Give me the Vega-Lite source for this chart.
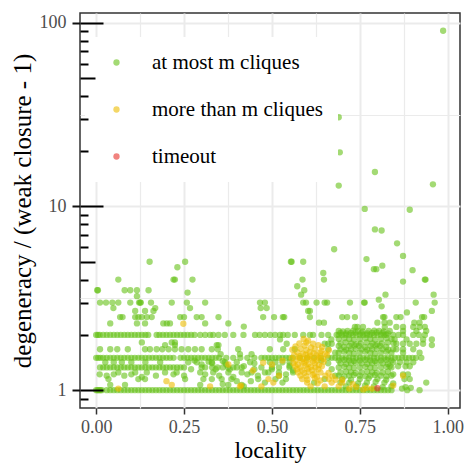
{
"$schema": "https://vega.github.io/schema/vega-lite/v6.json",
"width": 380, "height": 395,
"autosize": {"type": "none"},
"padding": {"left": 80, "top": 13, "right": 7, "bottom": 55},
"config": {"view": {"stroke": "#333333", "strokeWidth": 1.5}, "font": "'Liberation Serif', 'Times New Roman', serif",
"axis": {"labelFont": "'Liberation Serif', 'Times New Roman', serif", "titleFont": "'Liberation Serif', 'Times New Roman', serif"},
"legend": {"labelFont": "'Liberation Serif', 'Times New Roman', serif", "titleFont": "'Liberation Serif', 'Times New Roman', serif"}},
"datasets": {
"cls": [{"c":"g","status":"at most m cliques"},{"c":"y","status":"more than m cliques"},{"c":"r","status":"timeout"}],
"pts": [
{"x":0.987,"y":90.5,"c":"g"},{"x":0.69,"y":30.6,"c":"g"},{"x":0.693,"y":19.7,"c":"g"},{"x":0.656,"y":17.1,"c":"g"},{"x":0.793,"y":15.4,"c":"g"},{"x":0.69,"y":13.0,"c":"g"},{"x":0.958,"y":13.2,"c":"g"},{"x":0.764,"y":9.7,"c":"g"},{"x":0.892,"y":9.6,"c":"g"},{"x":0.793,"y":7.5,"c":"g"},{"x":0.812,"y":7.4,"c":"g"},{"x":0.856,"y":6.3,"c":"g"},{"x":0.677,"y":5.85,"c":"g"},{"x":0.873,"y":5.38,"c":"g"},{"x":0.769,"y":5.17,"c":"g"},{"x":0.554,"y":5.0,"c":"g"},{"x":0.556,"y":5.0,"c":"g"},{"x":0.589,"y":5.0,"c":"g"},{"x":0.814,"y":4.76,"c":"g"},{"x":0.79,"y":4.56,"c":"g"},{"x":0.797,"y":4.56,"c":"g"},{"x":0.9,"y":4.5,"c":"g"},{"x":0.646,"y":4.35,"c":"g"},{"x":0.587,"y":4.0,"c":"g"},{"x":0.648,"y":4.0,"c":"g"},{"x":0.935,"y":4.0,"c":"g"},{"x":0.937,"y":4.0,"c":"g"},{"x":0.873,"y":3.9,"c":"g"},{"x":0.572,"y":3.68,"c":"g"},{"x":0.592,"y":3.5,"c":"g"},{"x":0.583,"y":3.31,"c":"g"},{"x":0.823,"y":3.31,"c":"g"},{"x":0.96,"y":3.31,"c":"g"},{"x":0.804,"y":3.11,"c":"g"},
{"x":0.152,"y":5.0,"c":"g"},{"x":0.253,"y":5.0,"c":"g"},{"x":0.231,"y":4.67,"c":"g"},{"x":0.063,"y":4.0,"c":"g"},{"x":0.22,"y":4.0,"c":"g"},{"x":0.224,"y":4.0,"c":"g"},{"x":0.274,"y":4.0,"c":"g"},{"x":0.003,"y":3.5,"c":"g"},{"x":0.005,"y":3.5,"c":"g"},{"x":0.081,"y":3.5,"c":"g"},{"x":0.097,"y":3.5,"c":"g"},{"x":0.116,"y":3.5,"c":"g"},{"x":0.149,"y":3.5,"c":"g"},{"x":0.26,"y":3.4,"c":"g"},{"x":0.116,"y":3.25,"c":"g"},
{"x":0.011,"y":3,"c":"g"},{"x":0.028,"y":3,"c":"g"},{"x":0.046,"y":3,"c":"g"},{"x":0.063,"y":3,"c":"g"},{"x":0.097,"y":3,"c":"g"},{"x":0.122,"y":3,"c":"g"},{"x":0.125,"y":3,"c":"g"},{"x":0.127,"y":3,"c":"g"},{"x":0.156,"y":3,"c":"g"},{"x":0.215,"y":3,"c":"g"},{"x":0.258,"y":3,"c":"g"},{"x":0.31,"y":3,"c":"g"},{"x":0.466,"y":3,"c":"g"},{"x":0.48,"y":3,"c":"g"},{"x":0.589,"y":3,"c":"g"},{"x":0.597,"y":3,"c":"g"},{"x":0.627,"y":3,"c":"g"},{"x":0.65,"y":3,"c":"g"},{"x":0.657,"y":3,"c":"g"},{"x":0.722,"y":3,"c":"g"},{"x":0.762,"y":3,"c":"g"},{"x":0.764,"y":3,"c":"g"},{"x":0.909,"y":3,"c":"g"},{"x":0.963,"y":3,"c":"g"},
{"x":0.049,"y":2.8,"c":"g"},{"x":0.168,"y":2.8,"c":"g"},{"x":0.267,"y":2.8,"c":"g"},{"x":0.468,"y":2.8,"c":"g"},{"x":0.485,"y":2.8,"c":"g"},{"x":0.812,"y":2.86,"c":"g"},
{"x":0.111,"y":2.7,"c":"g"},{"x":0.139,"y":2.7,"c":"g"},{"x":0.163,"y":2.7,"c":"g"},{"x":0.603,"y":2.7,"c":"g"},{"x":0.608,"y":2.7,"c":"g"},{"x":0.955,"y":2.7,"c":"g"},{"x":0.884,"y":2.65,"c":"g"},
{"x":0.068,"y":2.5,"c":"g"},{"x":0.075,"y":2.5,"c":"g"},{"x":0.111,"y":2.5,"c":"g"},{"x":0.12,"y":2.5,"c":"g"},{"x":0.13,"y":2.5,"c":"g"},{"x":0.144,"y":2.5,"c":"g"},{"x":0.158,"y":2.5,"c":"g"},{"x":0.239,"y":2.5,"c":"g"},{"x":0.25,"y":2.5,"c":"g"},{"x":0.286,"y":2.5,"c":"g"},{"x":0.3,"y":2.5,"c":"g"},{"x":0.348,"y":2.5,"c":"g"},{"x":0.475,"y":2.5,"c":"g"},{"x":0.506,"y":2.5,"c":"g"},{"x":0.531,"y":2.5,"c":"g"},{"x":0.535,"y":2.5,"c":"g"},{"x":0.608,"y":2.5,"c":"g"},{"x":0.7,"y":2.5,"c":"g"},{"x":0.714,"y":2.5,"c":"g"},{"x":0.736,"y":2.5,"c":"g"},{"x":0.816,"y":2.5,"c":"g"},{"x":0.82,"y":2.5,"c":"g"},{"x":0.854,"y":2.5,"c":"g"},{"x":0.866,"y":2.5,"c":"g"},{"x":0.927,"y":2.5,"c":"g"},{"x":0.933,"y":2.5,"c":"g"},
{"x":0.04,"y":2.31,"c":"g"},{"x":0.116,"y":2.31,"c":"g"},{"x":0.139,"y":2.31,"c":"g"},{"x":0.191,"y":2.31,"c":"g"},{"x":0.201,"y":2.31,"c":"g"},{"x":0.21,"y":2.31,"c":"g"},{"x":0.31,"y":2.31,"c":"g"},{"x":0.376,"y":2.31,"c":"g"},{"x":0.634,"y":2.33,"c":"g"},{"x":0.648,"y":2.33,"c":"g"},{"x":0.8,"y":2.33,"c":"g"},{"x":0.82,"y":2.33,"c":"g"},{"x":0.835,"y":2.33,"c":"g"},{"x":0.905,"y":2.33,"c":"g"},{"x":0.92,"y":2.33,"c":"g"},
{"x":0.42,"y":2.22,"c":"g"},{"x":0.736,"y":2.21,"c":"g"},{"x":0.743,"y":2.21,"c":"g"},{"x":0.759,"y":2.21,"c":"g"},{"x":0.821,"y":2.21,"c":"g"},{"x":0.854,"y":2.21,"c":"g"},{"x":0.873,"y":2.21,"c":"g"},{"x":0.902,"y":2.21,"c":"g"},{"x":0.92,"y":2.21,"c":"g"},{"x":0.935,"y":2.21,"c":"g"},
{"x":0.835,"y":2.1,"c":"g"},{"x":0.873,"y":2.1,"c":"g"},{"x":0.911,"y":2.1,"c":"g"},{"x":0.939,"y":2.1,"c":"g"},
{"x":0,"y":2,"c":"g"},{"x":0.005,"y":2,"c":"g"},{"x":0.01,"y":2,"c":"g"},{"x":0.02,"y":2,"c":"g"},{"x":0.03,"y":2,"c":"g"},{"x":0.04,"y":2,"c":"g"},{"x":0.05,"y":2,"c":"g"},{"x":0.06,"y":2,"c":"g"},{"x":0.07,"y":2,"c":"g"},{"x":0.08,"y":2,"c":"g"},{"x":0.09,"y":2,"c":"g"},{"x":0.1,"y":2,"c":"g"},{"x":0.11,"y":2,"c":"g"},{"x":0.12,"y":2,"c":"g"},{"x":0.13,"y":2,"c":"g"},{"x":0.14,"y":2,"c":"g"},{"x":0.148,"y":2,"c":"g"},{"x":0.172,"y":2,"c":"g"},{"x":0.18,"y":2,"c":"g"},{"x":0.19,"y":2,"c":"g"},{"x":0.2,"y":2,"c":"g"},{"x":0.21,"y":2,"c":"g"},{"x":0.22,"y":2,"c":"g"},{"x":0.23,"y":2,"c":"g"},{"x":0.24,"y":2,"c":"g"},{"x":0.25,"y":2,"c":"g"},{"x":0.26,"y":2,"c":"g"},{"x":0.27,"y":2,"c":"g"},{"x":0.28,"y":2,"c":"g"},{"x":0.296,"y":2,"c":"g"},{"x":0.31,"y":2,"c":"g"},{"x":0.324,"y":2,"c":"g"},{"x":0.333,"y":2,"c":"g"},{"x":0.348,"y":2,"c":"g"},{"x":0.366,"y":2,"c":"g"},{"x":0.39,"y":2,"c":"g"},{"x":0.419,"y":2,"c":"g"},{"x":0.452,"y":2,"c":"g"},{"x":0.465,"y":2,"c":"g"},{"x":0.48,"y":2,"c":"g"},{"x":0.495,"y":2,"c":"g"},{"x":0.509,"y":2,"c":"g"},{"x":0.523,"y":2,"c":"g"},{"x":0.532,"y":2,"c":"g"},{"x":0.545,"y":2,"c":"g"},{"x":0.565,"y":2,"c":"g"},{"x":0.589,"y":2,"c":"g"},{"x":0.608,"y":2,"c":"g"},{"x":0.617,"y":2,"c":"g"},{"x":0.641,"y":2,"c":"g"},{"x":0.66,"y":2,"c":"g"},{"x":0.684,"y":2,"c":"g"},{"x":0.69,"y":2,"c":"g"},{"x":0.7,"y":2,"c":"g"},{"x":0.71,"y":2,"c":"g"},{"x":0.72,"y":2,"c":"g"},{"x":0.73,"y":2,"c":"g"},{"x":0.74,"y":2,"c":"g"},{"x":0.75,"y":2,"c":"g"},{"x":0.76,"y":2,"c":"g"},{"x":0.77,"y":2,"c":"g"},{"x":0.78,"y":2,"c":"g"},{"x":0.79,"y":2,"c":"g"},{"x":0.8,"y":2,"c":"g"},{"x":0.81,"y":2,"c":"g"},{"x":0.82,"y":2,"c":"g"},{"x":0.826,"y":2,"c":"g"},{"x":0.845,"y":2,"c":"g"},{"x":0.86,"y":2,"c":"g"},{"x":0.873,"y":2,"c":"g"},{"x":0.902,"y":2,"c":"g"},{"x":0.918,"y":2,"c":"g"},{"x":0.935,"y":2,"c":"g"},
{"x":0.523,"y":1.89,"c":"g"},{"x":0.669,"y":1.89,"c":"g"},{"x":0.849,"y":1.89,"c":"g"},{"x":0.883,"y":1.89,"c":"g"},{"x":0.93,"y":1.89,"c":"g"},{"x":0.955,"y":1.89,"c":"g"},
{"x":0.13,"y":1.82,"c":"g"},{"x":0.215,"y":1.82,"c":"g"},{"x":0.224,"y":1.82,"c":"g"},
{"x":0.196,"y":1.76,"c":"g"},{"x":0.224,"y":1.76,"c":"g"},{"x":0.343,"y":1.76,"c":"g"},{"x":0.348,"y":1.76,"c":"g"},{"x":0.955,"y":1.76,"c":"g"},
{"x":0.542,"y":1.79,"c":"g"},{"x":0.65,"y":1.79,"c":"g"},{"x":0.66,"y":1.79,"c":"g"},{"x":0.67,"y":1.79,"c":"g"},{"x":0.854,"y":1.79,"c":"g"},{"x":0.873,"y":1.79,"c":"g"},{"x":0.892,"y":1.79,"c":"g"},{"x":0.911,"y":1.79,"c":"g"},{"x":0.93,"y":1.79,"c":"g"},
{"x":0.011,"y":1.67,"c":"g"},{"x":0.04,"y":1.67,"c":"g"},{"x":0.06,"y":1.67,"c":"g"},{"x":0.09,"y":1.67,"c":"g"},{"x":0.139,"y":1.67,"c":"g"},{"x":0.153,"y":1.67,"c":"g"},{"x":0.172,"y":1.67,"c":"g"},{"x":0.188,"y":1.67,"c":"g"},{"x":0.206,"y":1.67,"c":"g"},{"x":0.224,"y":1.67,"c":"g"},{"x":0.243,"y":1.67,"c":"g"},{"x":0.262,"y":1.67,"c":"g"},{"x":0.281,"y":1.67,"c":"g"},{"x":0.3,"y":1.67,"c":"g"},{"x":0.329,"y":1.67,"c":"g"},{"x":0.346,"y":1.67,"c":"g"},{"x":0.404,"y":1.67,"c":"g"},{"x":0.494,"y":1.67,"c":"g"},{"x":0.532,"y":1.67,"c":"g"},{"x":0.565,"y":1.67,"c":"g"},{"x":0.66,"y":1.67,"c":"g"},{"x":0.854,"y":1.67,"c":"g"},{"x":0.873,"y":1.67,"c":"g"},{"x":0.902,"y":1.67,"c":"g"},
{"x":0.873,"y":1.6,"c":"g"},{"x":0.92,"y":1.6,"c":"g"},{"x":0.354,"y":1.57,"c":"g"},{"x":0.409,"y":1.57,"c":"g"},{"x":0.442,"y":1.57,"c":"g"},
{"x":0,"y":1.5,"c":"g"},{"x":0.006,"y":1.5,"c":"g"},{"x":0.012,"y":1.5,"c":"g"},{"x":0.02,"y":1.5,"c":"g"},{"x":0.03,"y":1.5,"c":"g"},{"x":0.04,"y":1.5,"c":"g"},{"x":0.05,"y":1.5,"c":"g"},{"x":0.06,"y":1.5,"c":"g"},{"x":0.07,"y":1.5,"c":"g"},{"x":0.08,"y":1.5,"c":"g"},{"x":0.09,"y":1.5,"c":"g"},{"x":0.1,"y":1.5,"c":"g"},{"x":0.11,"y":1.5,"c":"g"},{"x":0.12,"y":1.5,"c":"g"},{"x":0.13,"y":1.5,"c":"g"},{"x":0.14,"y":1.5,"c":"g"},{"x":0.15,"y":1.5,"c":"g"},{"x":0.16,"y":1.5,"c":"g"},{"x":0.17,"y":1.5,"c":"g"},{"x":0.18,"y":1.5,"c":"g"},{"x":0.19,"y":1.5,"c":"g"},{"x":0.2,"y":1.5,"c":"g"},{"x":0.21,"y":1.5,"c":"g"},{"x":0.22,"y":1.5,"c":"g"},{"x":0.24,"y":1.5,"c":"g"},{"x":0.25,"y":1.5,"c":"g"},{"x":0.26,"y":1.5,"c":"g"},{"x":0.27,"y":1.5,"c":"g"},{"x":0.28,"y":1.5,"c":"g"},{"x":0.29,"y":1.5,"c":"g"},{"x":0.3,"y":1.5,"c":"g"},{"x":0.31,"y":1.5,"c":"g"},{"x":0.32,"y":1.5,"c":"g"},{"x":0.33,"y":1.5,"c":"g"},{"x":0.34,"y":1.5,"c":"g"},{"x":0.35,"y":1.5,"c":"g"},{"x":0.37,"y":1.5,"c":"g"},{"x":0.39,"y":1.5,"c":"g"},{"x":0.41,"y":1.5,"c":"g"},{"x":0.43,"y":1.5,"c":"g"},{"x":0.45,"y":1.5,"c":"g"},{"x":0.47,"y":1.5,"c":"g"},{"x":0.48,"y":1.5,"c":"g"},{"x":0.49,"y":1.5,"c":"g"},{"x":0.5,"y":1.5,"c":"g"},{"x":0.51,"y":1.5,"c":"g"},{"x":0.52,"y":1.5,"c":"g"},{"x":0.53,"y":1.5,"c":"g"},{"x":0.54,"y":1.5,"c":"g"},{"x":0.55,"y":1.5,"c":"g"},{"x":0.56,"y":1.5,"c":"g"},{"x":0.58,"y":1.5,"c":"g"},{"x":0.6,"y":1.5,"c":"g"},{"x":0.62,"y":1.5,"c":"g"},{"x":0.64,"y":1.5,"c":"g"},{"x":0.66,"y":1.5,"c":"g"},{"x":0.68,"y":1.5,"c":"g"},{"x":0.69,"y":1.5,"c":"g"},{"x":0.7,"y":1.5,"c":"g"},{"x":0.71,"y":1.5,"c":"g"},{"x":0.72,"y":1.5,"c":"g"},{"x":0.73,"y":1.5,"c":"g"},{"x":0.74,"y":1.5,"c":"g"},{"x":0.75,"y":1.5,"c":"g"},{"x":0.76,"y":1.5,"c":"g"},{"x":0.77,"y":1.5,"c":"g"},{"x":0.78,"y":1.5,"c":"g"},{"x":0.79,"y":1.5,"c":"g"},{"x":0.8,"y":1.5,"c":"g"},{"x":0.81,"y":1.5,"c":"g"},{"x":0.82,"y":1.5,"c":"g"},{"x":0.83,"y":1.5,"c":"g"},{"x":0.84,"y":1.5,"c":"g"},{"x":0.85,"y":1.5,"c":"g"},{"x":0.86,"y":1.5,"c":"g"},{"x":0.87,"y":1.5,"c":"g"},{"x":0.88,"y":1.5,"c":"g"},{"x":0.89,"y":1.5,"c":"g"},{"x":0.9,"y":1.5,"c":"g"},{"x":0.91,"y":1.5,"c":"g"},{"x":0.925,"y":1.5,"c":"g"},
{"x":0.026,"y":1.42,"c":"g"},{"x":0.05,"y":1.42,"c":"g"},{"x":0.073,"y":1.42,"c":"g"},{"x":0.1,"y":1.42,"c":"g"},{"x":0.14,"y":1.42,"c":"g"},{"x":0.182,"y":1.42,"c":"g"},{"x":0.262,"y":1.42,"c":"g"},{"x":0.286,"y":1.42,"c":"g"},{"x":0.329,"y":1.42,"c":"g"},{"x":0.366,"y":1.42,"c":"g"},{"x":0.438,"y":1.42,"c":"g"},{"x":0.494,"y":1.42,"c":"g"},{"x":0.51,"y":1.42,"c":"g"},{"x":0.53,"y":1.42,"c":"g"},{"x":0.55,"y":1.42,"c":"g"},{"x":0.845,"y":1.42,"c":"g"},{"x":0.864,"y":1.42,"c":"g"},{"x":0.883,"y":1.42,"c":"g"},{"x":0.902,"y":1.42,"c":"g"},
{"x":0.011,"y":1.33,"c":"g"},{"x":0.02,"y":1.33,"c":"g"},{"x":0.03,"y":1.33,"c":"g"},{"x":0.04,"y":1.33,"c":"g"},{"x":0.05,"y":1.33,"c":"g"},{"x":0.06,"y":1.33,"c":"g"},{"x":0.07,"y":1.33,"c":"g"},{"x":0.08,"y":1.33,"c":"g"},{"x":0.09,"y":1.33,"c":"g"},{"x":0.1,"y":1.33,"c":"g"},{"x":0.11,"y":1.33,"c":"g"},{"x":0.12,"y":1.33,"c":"g"},{"x":0.13,"y":1.33,"c":"g"},{"x":0.14,"y":1.33,"c":"g"},{"x":0.15,"y":1.33,"c":"g"},{"x":0.16,"y":1.33,"c":"g"},{"x":0.17,"y":1.33,"c":"g"},{"x":0.18,"y":1.33,"c":"g"},{"x":0.19,"y":1.33,"c":"g"},{"x":0.2,"y":1.33,"c":"g"},{"x":0.21,"y":1.33,"c":"g"},{"x":0.22,"y":1.33,"c":"g"},{"x":0.23,"y":1.33,"c":"g"},{"x":0.24,"y":1.33,"c":"g"},{"x":0.25,"y":1.33,"c":"g"},{"x":0.3,"y":1.33,"c":"g"},{"x":0.31,"y":1.33,"c":"g"},{"x":0.33,"y":1.33,"c":"g"},{"x":0.345,"y":1.33,"c":"g"},{"x":0.36,"y":1.33,"c":"g"},{"x":0.375,"y":1.33,"c":"g"},{"x":0.39,"y":1.33,"c":"g"},{"x":0.4,"y":1.33,"c":"g"},{"x":0.414,"y":1.33,"c":"g"},{"x":0.5,"y":1.33,"c":"g"},{"x":0.52,"y":1.33,"c":"g"},{"x":0.55,"y":1.33,"c":"g"},
{"x":0.835,"y":1.35,"c":"g"},{"x":0.859,"y":1.35,"c":"g"},{"x":0.88,"y":1.35,"c":"g"},{"x":0.892,"y":1.35,"c":"g"},
{"x":0.063,"y":1.25,"c":"g"},{"x":0.111,"y":1.25,"c":"g"},{"x":0.144,"y":1.25,"c":"g"},{"x":0.196,"y":1.25,"c":"g"},{"x":0.229,"y":1.25,"c":"g"},{"x":0.296,"y":1.25,"c":"g"},{"x":0.333,"y":1.25,"c":"g"},{"x":0.376,"y":1.25,"c":"g"},{"x":0.414,"y":1.25,"c":"g"},{"x":0.442,"y":1.25,"c":"g"},{"x":0.48,"y":1.25,"c":"g"},{"x":0.52,"y":1.25,"c":"g"},{"x":0.56,"y":1.25,"c":"g"},
{"x":0.01,"y":1.22,"c":"g"},{"x":0.03,"y":1.2,"c":"g"},{"x":0.05,"y":1.22,"c":"g"},{"x":0.08,"y":1.2,"c":"g"},{"x":0.1,"y":1.22,"c":"g"},{"x":0.13,"y":1.18,"c":"g"},{"x":0.17,"y":1.2,"c":"g"},{"x":0.22,"y":1.22,"c":"g"},{"x":0.25,"y":1.2,"c":"g"},{"x":0.845,"y":1.22,"c":"g"},{"x":0.873,"y":1.22,"c":"g"},{"x":0.887,"y":1.22,"c":"g"},
{"x":0.035,"y":1.15,"c":"g"},{"x":0.12,"y":1.15,"c":"g"},{"x":0.139,"y":1.15,"c":"g"},{"x":0.253,"y":1.15,"c":"g"},{"x":0.305,"y":1.15,"c":"g"},{"x":0.329,"y":1.15,"c":"g"},{"x":0.357,"y":1.15,"c":"g"},{"x":0.385,"y":1.15,"c":"g"},{"x":0.461,"y":1.15,"c":"g"},{"x":0.51,"y":1.15,"c":"g"},{"x":0.54,"y":1.15,"c":"g"},{"x":0.877,"y":1.15,"c":"g"},{"x":0.892,"y":1.15,"c":"g"},
{"x":0.53,"y":1.1,"c":"g"},{"x":0.939,"y":1.1,"c":"g"},{"x":0.04,"y":1.07,"c":"g"},{"x":0.082,"y":1.07,"c":"g"},{"x":0.296,"y":1.07,"c":"g"},{"x":0.376,"y":1.07,"c":"g"},{"x":0.414,"y":1.07,"c":"g"},
{"x":0.28,"y":1.45,"c":"g"},{"x":0.3,"y":1.38,"c":"g"},{"x":0.32,"y":1.43,"c":"g"},{"x":0.34,"y":1.3,"c":"g"},{"x":0.36,"y":1.44,"c":"g"},{"x":0.38,"y":1.3,"c":"g"},{"x":0.4,"y":1.42,"c":"g"},{"x":0.42,"y":1.35,"c":"g"},{"x":0.43,"y":1.22,"c":"g"},{"x":0.45,"y":1.4,"c":"g"},{"x":0.46,"y":1.2,"c":"g"},{"x":0.47,"y":1.33,"c":"g"},{"x":0.49,"y":1.25,"c":"g"},{"x":0.35,"y":1.2,"c":"g"},{"x":0.39,"y":1.18,"c":"g"},{"x":0.31,"y":1.22,"c":"g"},{"x":0.44,"y":1.12,"c":"g"},{"x":0.48,"y":1.1,"c":"g"},{"x":0.27,"y":1.3,"c":"g"},{"x":0.36,"y":1.08,"c":"g"},{"x":0.4,"y":1.12,"c":"g"},{"x":0.42,"y":1.05,"c":"g"},{"x":0.45,"y":1.3,"c":"g"},{"x":0.33,"y":1.4,"c":"g"},{"x":0.37,"y":1.38,"c":"g"},{"x":0.5,"y":1.3,"c":"g"},{"x":0.52,"y":1.2,"c":"g"},{"x":0.54,"y":1.22,"c":"g"},{"x":0.55,"y":1.36,"c":"g"},{"x":0.56,"y":1.28,"c":"g"},{"x":0.64,"y":1.45,"c":"g"},{"x":0.66,"y":1.4,"c":"g"},{"x":0.67,"y":1.3,"c":"g"},{"x":0.68,"y":1.2,"c":"g"},{"x":0.65,"y":1.15,"c":"g"},{"x":0.62,"y":1.1,"c":"g"},{"x":0.68,"y":1.6,"c":"g"},{"x":0.67,"y":1.5,"c":"g"},
{"x":0.69,"y":2.1,"c":"g"},{"x":0.702,"y":2.09,"c":"g"},{"x":0.715,"y":2.1,"c":"g"},{"x":0.731,"y":2.11,"c":"g"},{"x":0.745,"y":2.1,"c":"g"},{"x":0.758,"y":2.09,"c":"g"},{"x":0.775,"y":2.1,"c":"g"},{"x":0.791,"y":2.11,"c":"g"},{"x":0.805,"y":2.1,"c":"g"},{"x":0.818,"y":2.09,"c":"g"},
{"x":0.695,"y":2.05,"c":"g"},{"x":0.711,"y":2.04,"c":"g"},{"x":0.725,"y":2.05,"c":"g"},{"x":0.738,"y":2.06,"c":"g"},{"x":0.755,"y":2.05,"c":"g"},{"x":0.771,"y":2.04,"c":"g"},{"x":0.785,"y":2.05,"c":"g"},{"x":0.798,"y":2.06,"c":"g"},{"x":0.815,"y":2.05,"c":"g"},{"x":0.83,"y":2.04,"c":"g"},
{"x":0.69,"y":1.9,"c":"g"},{"x":0.706,"y":1.92,"c":"g"},{"x":0.72,"y":1.9,"c":"g"},{"x":0.733,"y":1.88,"c":"g"},{"x":0.75,"y":1.9,"c":"g"},{"x":0.766,"y":1.92,"c":"g"},{"x":0.78,"y":1.9,"c":"g"},{"x":0.793,"y":1.88,"c":"g"},{"x":0.81,"y":1.9,"c":"g"},{"x":0.826,"y":1.92,"c":"g"},{"x":0.84,"y":1.9,"c":"g"},
{"x":0.695,"y":1.8,"c":"g"},{"x":0.71,"y":1.82,"c":"g"},{"x":0.726,"y":1.8,"c":"g"},{"x":0.74,"y":1.78,"c":"g"},{"x":0.753,"y":1.8,"c":"g"},{"x":0.77,"y":1.82,"c":"g"},{"x":0.786,"y":1.8,"c":"g"},{"x":0.8,"y":1.78,"c":"g"},{"x":0.813,"y":1.8,"c":"g"},{"x":0.83,"y":1.82,"c":"g"},{"x":0.846,"y":1.8,"c":"g"},
{"x":0.69,"y":1.74,"c":"g"},{"x":0.705,"y":1.72,"c":"g"},{"x":0.721,"y":1.74,"c":"g"},{"x":0.735,"y":1.75,"c":"g"},{"x":0.748,"y":1.74,"c":"g"},{"x":0.765,"y":1.72,"c":"g"},{"x":0.781,"y":1.74,"c":"g"},{"x":0.795,"y":1.75,"c":"g"},{"x":0.808,"y":1.74,"c":"g"},{"x":0.825,"y":1.72,"c":"g"},
{"x":0.695,"y":1.67,"c":"g"},{"x":0.711,"y":1.66,"c":"g"},{"x":0.725,"y":1.67,"c":"g"},{"x":0.738,"y":1.68,"c":"g"},{"x":0.755,"y":1.67,"c":"g"},{"x":0.771,"y":1.66,"c":"g"},{"x":0.785,"y":1.67,"c":"g"},{"x":0.798,"y":1.68,"c":"g"},{"x":0.815,"y":1.67,"c":"g"},{"x":0.831,"y":1.66,"c":"g"},{"x":0.845,"y":1.67,"c":"g"},
{"x":0.69,"y":1.6,"c":"g"},{"x":0.706,"y":1.62,"c":"g"},{"x":0.72,"y":1.6,"c":"g"},{"x":0.733,"y":1.58,"c":"g"},{"x":0.75,"y":1.6,"c":"g"},{"x":0.766,"y":1.62,"c":"g"},{"x":0.78,"y":1.6,"c":"g"},{"x":0.793,"y":1.58,"c":"g"},{"x":0.81,"y":1.6,"c":"g"},{"x":0.826,"y":1.62,"c":"g"},{"x":0.84,"y":1.6,"c":"g"},
{"x":0.69,"y":1.45,"c":"g"},{"x":0.706,"y":1.46,"c":"g"},{"x":0.72,"y":1.45,"c":"g"},{"x":0.733,"y":1.44,"c":"g"},{"x":0.75,"y":1.45,"c":"g"},{"x":0.766,"y":1.46,"c":"g"},{"x":0.78,"y":1.45,"c":"g"},{"x":0.793,"y":1.44,"c":"g"},{"x":0.81,"y":1.45,"c":"g"},{"x":0.826,"y":1.46,"c":"g"},{"x":0.84,"y":1.45,"c":"g"},
{"x":0.695,"y":1.4,"c":"g"},{"x":0.711,"y":1.39,"c":"g"},{"x":0.725,"y":1.4,"c":"g"},{"x":0.738,"y":1.41,"c":"g"},{"x":0.755,"y":1.4,"c":"g"},{"x":0.771,"y":1.39,"c":"g"},{"x":0.785,"y":1.4,"c":"g"},{"x":0.798,"y":1.41,"c":"g"},{"x":0.815,"y":1.4,"c":"g"},{"x":0.83,"y":1.39,"c":"g"},
{"x":0.69,"y":1.33,"c":"g"},{"x":0.706,"y":1.34,"c":"g"},{"x":0.72,"y":1.33,"c":"g"},{"x":0.733,"y":1.32,"c":"g"},{"x":0.75,"y":1.33,"c":"g"},{"x":0.766,"y":1.34,"c":"g"},{"x":0.78,"y":1.33,"c":"g"},{"x":0.793,"y":1.32,"c":"g"},{"x":0.81,"y":1.33,"c":"g"},{"x":0.826,"y":1.34,"c":"g"},{"x":0.84,"y":1.33,"c":"g"},
{"x":0.695,"y":1.25,"c":"g"},{"x":0.711,"y":1.26,"c":"g"},{"x":0.725,"y":1.25,"c":"g"},{"x":0.738,"y":1.24,"c":"g"},{"x":0.755,"y":1.25,"c":"g"},{"x":0.771,"y":1.26,"c":"g"},{"x":0.785,"y":1.25,"c":"g"},{"x":0.798,"y":1.24,"c":"g"},{"x":0.815,"y":1.25,"c":"g"},{"x":0.83,"y":1.26,"c":"g"},
{"x":0.69,"y":1.2,"c":"g"},{"x":0.706,"y":1.19,"c":"g"},{"x":0.72,"y":1.2,"c":"g"},{"x":0.733,"y":1.21,"c":"g"},{"x":0.75,"y":1.2,"c":"g"},{"x":0.766,"y":1.19,"c":"g"},{"x":0.78,"y":1.2,"c":"g"},{"x":0.793,"y":1.21,"c":"g"},{"x":0.81,"y":1.2,"c":"g"},{"x":0.826,"y":1.19,"c":"g"},{"x":0.84,"y":1.2,"c":"g"},
{"x":0.7,"y":1.15,"c":"g"},{"x":0.725,"y":1.14,"c":"g"},{"x":0.75,"y":1.15,"c":"g"},{"x":0.775,"y":1.16,"c":"g"},{"x":0.8,"y":1.15,"c":"g"},{"x":0.825,"y":1.14,"c":"g"},
{"x":0.695,"y":1.1,"c":"g"},{"x":0.72,"y":1.1,"c":"g"},{"x":0.745,"y":1.09,"c":"g"},{"x":0.77,"y":1.1,"c":"g"},{"x":0.795,"y":1.11,"c":"g"},{"x":0.82,"y":1.1,"c":"g"},{"x":0.845,"y":1.09,"c":"g"},
{"x":0.71,"y":1.05,"c":"g"},{"x":0.74,"y":1.05,"c":"g"},{"x":0.765,"y":1.06,"c":"g"},{"x":0.79,"y":1.05,"c":"g"},{"x":0.815,"y":1.04,"c":"g"},{"x":0.84,"y":1.05,"c":"g"},
{"x":0,"y":1,"c":"g"},{"x":0.004,"y":1,"c":"g"},{"x":0.008,"y":1,"c":"g"},{"x":0.012,"y":1,"c":"g"},{"x":0.016,"y":1,"c":"g"},{"x":0.03,"y":1,"c":"g"},{"x":0.04,"y":1,"c":"g"},{"x":0.05,"y":1,"c":"g"},{"x":0.06,"y":1,"c":"g"},{"x":0.07,"y":1,"c":"g"},{"x":0.08,"y":1,"c":"g"},{"x":0.09,"y":1,"c":"g"},{"x":0.1,"y":1,"c":"g"},{"x":0.11,"y":1,"c":"g"},{"x":0.12,"y":1,"c":"g"},{"x":0.13,"y":1,"c":"g"},{"x":0.14,"y":1,"c":"g"},{"x":0.15,"y":1,"c":"g"},{"x":0.16,"y":1,"c":"g"},{"x":0.17,"y":1,"c":"g"},{"x":0.18,"y":1,"c":"g"},{"x":0.19,"y":1,"c":"g"},{"x":0.2,"y":1,"c":"g"},{"x":0.21,"y":1,"c":"g"},{"x":0.22,"y":1,"c":"g"},{"x":0.23,"y":1,"c":"g"},{"x":0.24,"y":1,"c":"g"},{"x":0.25,"y":1,"c":"g"},{"x":0.26,"y":1,"c":"g"},{"x":0.27,"y":1,"c":"g"},{"x":0.28,"y":1,"c":"g"},{"x":0.29,"y":1,"c":"g"},{"x":0.3,"y":1,"c":"g"},{"x":0.31,"y":1,"c":"g"},{"x":0.32,"y":1,"c":"g"},{"x":0.33,"y":1,"c":"g"},{"x":0.34,"y":1,"c":"g"},{"x":0.35,"y":1,"c":"g"},{"x":0.36,"y":1,"c":"g"},{"x":0.37,"y":1,"c":"g"},{"x":0.38,"y":1,"c":"g"},{"x":0.39,"y":1,"c":"g"},{"x":0.4,"y":1,"c":"g"},{"x":0.41,"y":1,"c":"g"},{"x":0.42,"y":1,"c":"g"},{"x":0.43,"y":1,"c":"g"},{"x":0.44,"y":1,"c":"g"},{"x":0.45,"y":1,"c":"g"},{"x":0.46,"y":1,"c":"g"},{"x":0.47,"y":1,"c":"g"},{"x":0.48,"y":1,"c":"g"},{"x":0.49,"y":1,"c":"g"},{"x":0.5,"y":1,"c":"g"},{"x":0.51,"y":1,"c":"g"},{"x":0.52,"y":1,"c":"g"},{"x":0.53,"y":1,"c":"g"},{"x":0.54,"y":1,"c":"g"},{"x":0.55,"y":1,"c":"g"},{"x":0.56,"y":1,"c":"g"},{"x":0.57,"y":1,"c":"g"},{"x":0.58,"y":1,"c":"g"},{"x":0.59,"y":1,"c":"g"},{"x":0.6,"y":1,"c":"g"},{"x":0.61,"y":1,"c":"g"},{"x":0.62,"y":1,"c":"g"},{"x":0.63,"y":1,"c":"g"},{"x":0.64,"y":1,"c":"g"},{"x":0.65,"y":1,"c":"g"},{"x":0.66,"y":1,"c":"g"},{"x":0.67,"y":1,"c":"g"},{"x":0.68,"y":1,"c":"g"},{"x":0.69,"y":1,"c":"g"},{"x":0.7,"y":1,"c":"g"},{"x":0.71,"y":1,"c":"g"},{"x":0.72,"y":1,"c":"g"},{"x":0.73,"y":1,"c":"g"},{"x":0.74,"y":1,"c":"g"},{"x":0.75,"y":1,"c":"g"},{"x":0.76,"y":1,"c":"g"},{"x":0.77,"y":1,"c":"g"},{"x":0.78,"y":1,"c":"g"},{"x":0.79,"y":1,"c":"g"},{"x":0.8,"y":1,"c":"g"},{"x":0.81,"y":1,"c":"g"},{"x":0.82,"y":1,"c":"g"},{"x":0.83,"y":1,"c":"g"},{"x":0.84,"y":1,"c":"g"},{"x":0.87,"y":1.02,"c":"g"},{"x":0.88,"y":1.04,"c":"g"},{"x":0.885,"y":1.0,"c":"g"},{"x":0.895,"y":1.03,"c":"g"},{"x":0.92,"y":1.0,"c":"g"},
{"x":0.248,"y":2.3,"c":"y"},{"x":0.063,"y":1.02,"c":"y"},{"x":0.2,"y":1.12,"c":"y"},{"x":0.215,"y":1.07,"c":"y"},{"x":0.324,"y":1.05,"c":"y"},{"x":0.376,"y":1.38,"c":"y"},{"x":0.409,"y":1.05,"c":"y"},{"x":0.412,"y":1.06,"c":"y"},{"x":0.446,"y":1.28,"c":"y"},{"x":0.475,"y":1.41,"c":"y"},{"x":0.504,"y":1.1,"c":"y"},{"x":0.47,"y":1.05,"c":"y"},{"x":0.49,"y":1.15,"c":"y"},{"x":0.52,"y":1.2,"c":"y"},{"x":0.53,"y":1.45,"c":"y"},{"x":0.5,"y":1.38,"c":"y"},
{"x":0.59,"y":1.9,"c":"y"},{"x":0.603,"y":1.86,"c":"y"},
{"x":0.578,"y":1.8,"c":"y"},{"x":0.598,"y":1.82,"c":"y"},{"x":0.617,"y":1.79,"c":"y"},{"x":0.632,"y":1.76,"c":"y"},
{"x":0.567,"y":1.73,"c":"y"},{"x":0.593,"y":1.75,"c":"y"},{"x":0.611,"y":1.71,"c":"y"},{"x":0.643,"y":1.72,"c":"y"},
{"x":0.558,"y":1.66,"c":"y"},{"x":0.582,"y":1.68,"c":"y"},{"x":0.598,"y":1.65,"c":"y"},{"x":0.622,"y":1.67,"c":"y"},{"x":0.641,"y":1.64,"c":"y"},{"x":0.662,"y":1.65,"c":"y"},
{"x":0.572,"y":1.61,"c":"y"},{"x":0.588,"y":1.58,"c":"y"},{"x":0.607,"y":1.61,"c":"y"},{"x":0.619,"y":1.59,"c":"y"},{"x":0.637,"y":1.6,"c":"y"},{"x":0.652,"y":1.58,"c":"y"},
{"x":0.563,"y":1.55,"c":"y"},{"x":0.579,"y":1.53,"c":"y"},{"x":0.596,"y":1.56,"c":"y"},{"x":0.609,"y":1.54,"c":"y"},{"x":0.627,"y":1.55,"c":"y"},{"x":0.638,"y":1.53,"c":"y"},{"x":0.657,"y":1.55,"c":"y"},
{"x":0.556,"y":1.49,"c":"y"},{"x":0.577,"y":1.5,"c":"y"},{"x":0.588,"y":1.48,"c":"y"},{"x":0.602,"y":1.51,"c":"y"},{"x":0.614,"y":1.49,"c":"y"},{"x":0.632,"y":1.5,"c":"y"},{"x":0.646,"y":1.48,"c":"y"},
{"x":0.568,"y":1.45,"c":"y"},{"x":0.586,"y":1.43,"c":"y"},{"x":0.599,"y":1.46,"c":"y"},{"x":0.617,"y":1.44,"c":"y"},{"x":0.628,"y":1.45,"c":"y"},{"x":0.647,"y":1.43,"c":"y"},
{"x":0.561,"y":1.4,"c":"y"},{"x":0.574,"y":1.38,"c":"y"},{"x":0.592,"y":1.41,"c":"y"},{"x":0.604,"y":1.39,"c":"y"},{"x":0.622,"y":1.4,"c":"y"},{"x":0.634,"y":1.37,"c":"y"},
{"x":0.566,"y":1.35,"c":"y"},{"x":0.581,"y":1.33,"c":"y"},{"x":0.596,"y":1.36,"c":"y"},{"x":0.611,"y":1.34,"c":"y"},{"x":0.624,"y":1.33,"c":"y"},{"x":0.642,"y":1.35,"c":"y"},
{"x":0.571,"y":1.3,"c":"y"},{"x":0.586,"y":1.28,"c":"y"},{"x":0.601,"y":1.31,"c":"y"},{"x":0.614,"y":1.29,"c":"y"},{"x":0.632,"y":1.3,"c":"y"},
{"x":0.574,"y":1.25,"c":"y"},{"x":0.592,"y":1.24,"c":"y"},{"x":0.604,"y":1.26,"c":"y"},{"x":0.621,"y":1.23,"c":"y"},{"x":0.638,"y":1.25,"c":"y"},{"x":0.661,"y":1.24,"c":"y"},
{"x":0.581,"y":1.2,"c":"y"},{"x":0.598,"y":1.19,"c":"y"},{"x":0.616,"y":1.21,"c":"y"},{"x":0.628,"y":1.18,"c":"y"},{"x":0.652,"y":1.2,"c":"y"},{"x":0.672,"y":1.19,"c":"y"},
{"x":0.586,"y":1.15,"c":"y"},{"x":0.601,"y":1.14,"c":"y"},{"x":0.622,"y":1.16,"c":"y"},{"x":0.638,"y":1.13,"c":"y"},{"x":0.662,"y":1.15,"c":"y"},{"x":0.681,"y":1.14,"c":"y"},{"x":0.7,"y":1.14,"c":"y"},
{"x":0.6,"y":1.1,"c":"y"},{"x":0.63,"y":1.09,"c":"y"},{"x":0.67,"y":1.1,"c":"y"},{"x":0.7,"y":1.1,"c":"y"},{"x":0.73,"y":1.08,"c":"y"},
{"x":0.61,"y":1.05,"c":"y"},{"x":0.65,"y":1.05,"c":"y"},{"x":0.69,"y":1.05,"c":"y"},{"x":0.74,"y":1.04,"c":"y"},{"x":0.77,"y":1.03,"c":"y"},
{"x":0.72,"y":1.02,"c":"y"},{"x":0.76,"y":1.01,"c":"y"},{"x":0.785,"y":1.02,"c":"y"},{"x":0.873,"y":1.2,"c":"y"},{"x":0.845,"y":1.06,"c":"y"},
{"x":0.8,"y":1.025,"c":"r"}
]
},
"layer": [
{
"data": {"values": [{"x": 0.5, "y": 1}]},
"mark": {"type": "point", "opacity": 0},
"encoding": {
"x": {"field": "x", "type": "quantitative", "scale": {"domain": [-0.046, 1.035], "nice": false, "zero": false},
"axis": {"orient": "bottom", "values": [0.125, 0.375, 0.625, 0.875], "grid": true, "gridColor": "#EBEBEB", "gridWidth": 1.2, "ticks": false, "labels": false, "domain": false, "title": null, "zindex": 0}},
"y": {"field": "y", "type": "quantitative", "scale": {"type": "log", "domain": [0.8, 113], "nice": false},
"axis": {"orient": "left", "values": [3.1623, 31.623], "grid": true, "gridColor": "#EBEBEB", "gridWidth": 1.2, "ticks": false, "labels": false, "domain": false, "title": null, "zindex": 0}}
}
},
{
"data": {"name": "pts"},
"transform": [{"lookup": "c", "from": {"data": {"name": "cls"}, "key": "c", "fields": ["status"]}}],
"mark": {"type": "point", "filled": true, "size": 40, "opacity": 0.6, "strokeWidth": 0},
"encoding": {
"x": {"field": "x", "type": "quantitative", "scale": {"domain": [-0.046, 1.035], "nice": false, "zero": false},
"axis": {"orient": "bottom", "values": [0, 0.25, 0.5, 0.75, 1], "format": ".2f", "title": "locality", "grid": true, "gridColor": "#EBEBEB", "gridWidth": 2, "domain": false, "tickColor": "#333333", "tickWidth": 1.5, "tickSize": 6, "labelFontSize": 18, "labelColor": "#4D4D4D", "labelPadding": 4, "titleFontSize": 24, "titleFontWeight": "normal", "titleColor": "#000000", "titlePadding": 2, "zindex": 0}},
"y": {"field": "y", "type": "quantitative", "scale": {"type": "log", "domain": [0.8, 113], "nice": false},
"axis": {"orient": "left", "values": [1, 10, 100], "format": "d", "title": "degeneracy / (weak closure - 1)", "grid": true, "gridColor": "#EBEBEB", "gridWidth": 2, "domain": false, "tickColor": "#111111", "tickWidth": 2, "tickSize": 8, "labelFontSize": 18, "labelColor": "#4D4D4D", "labelPadding": 6, "titleFontSize": 25, "titleFontWeight": "normal", "titleColor": "#000000", "titlePadding": 4, "zindex": 0}},
"color": {"field": "status", "type": "nominal",
"scale": {"domain": ["at most m cliques", "more than m cliques", "timeout"], "range": ["#66C218", "#EDBD00", "#E8302A"]},
"legend": {"orient": "none", "legendX": 5, "legendY": 24, "title": null, "fillColor": "#FFFFFF", "padding": 15, "symbolOffset": 6, "symbolSize": 40, "symbolType": "circle", "symbolOpacity": 0.6, "symbolStrokeWidth": 0, "labelFontSize": 21, "labelColor": "#000000", "labelOffset": 25, "labelLimit": 400, "rowPadding": 25}}
}
},
{
"data": {"values": [{"x": 0.5, "y": 1}]},
"mark": {"type": "point", "opacity": 0},
"encoding": {
"x": {"field": "x", "type": "quantitative", "axis": null},
"y": {"field": "y", "type": "quantitative", "axis": {"orient": "left", "values": [0.9, 2, 3, 4, 6, 7, 8, 9, 20, 30, 40, 60, 70, 80, 90], "tickSize": -8, "tickWidth": 2, "tickColor": "#000000", "labels": false, "domain": false, "grid": false, "title": null, "zindex": 1}}
}
},
{
"data": {"values": [{"x": 0.5, "y": 1}]},
"mark": {"type": "point", "opacity": 0},
"encoding": {
"x": {"field": "x", "type": "quantitative", "axis": null},
"y": {"field": "y", "type": "quantitative", "axis": {"orient": "left", "values": [5, 50], "tickSize": -15, "tickWidth": 2, "tickColor": "#000000", "labels": false, "domain": false, "grid": false, "title": null, "zindex": 1}}
}
},
{
"data": {"values": [{"x": 0.5, "y": 1}]},
"mark": {"type": "point", "opacity": 0},
"encoding": {
"x": {"field": "x", "type": "quantitative", "axis": null},
"y": {"field": "y", "type": "quantitative", "axis": {"orient": "left", "values": [1, 10, 100], "tickSize": -23, "tickWidth": 2, "tickColor": "#000000", "labels": false, "domain": false, "grid": false, "title": null, "zindex": 1}}
}
}
],
"resolve": {"axis": {"x": "independent", "y": "independent"}}
}
